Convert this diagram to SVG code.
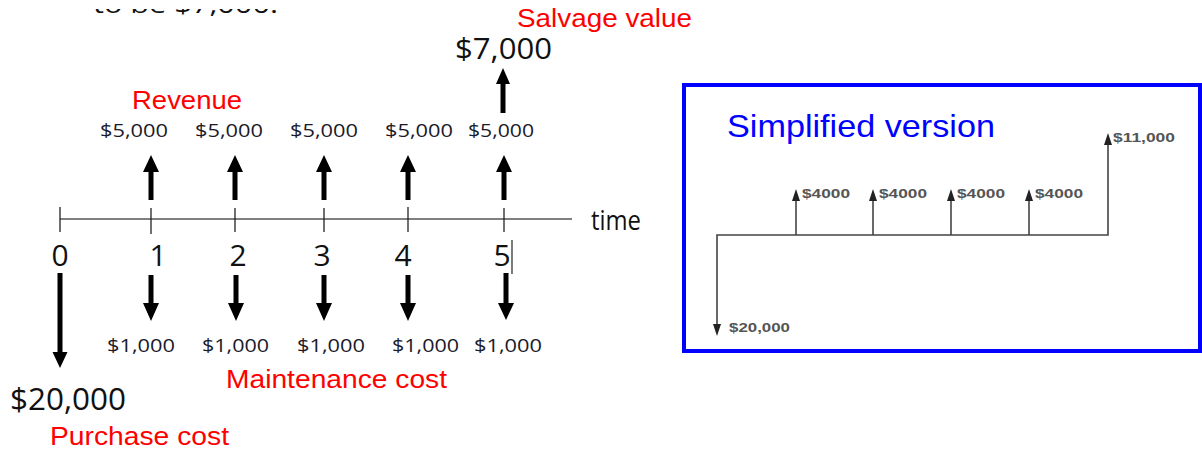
<svg xmlns="http://www.w3.org/2000/svg" width="1202" height="450" viewBox="0 0 1202 450">
<style>
.num{font-family:"Open Sans","Noto Sans",sans-serif;fill:#111;}
.lbl{font-family:"Open Sans","Noto Sans",sans-serif;fill:#1a1a2a;font-size:18px;}
.red{font-family:"Liberation Sans",Arial,sans-serif;fill:#ff0000;}
.arw{fill:#000;}
.axis{stroke:#555;stroke-width:1.5;fill:none;}
.tick{stroke:#222;stroke-width:1.3;}
.sm{stroke:#444;stroke-width:1.6;fill:none;}
.smh{fill:#222;}
.smt{font-family:"Liberation Sans",Arial,sans-serif;font-size:13px;font-weight:bold;fill:#555;}
</style>
<defs>
  <clipPath id="topcut"><rect x="0" y="9" width="400" height="20"/></clipPath>
</defs>
<rect width="1202" height="450" fill="#fff"/>
<g id="cut" clip-path="url(#topcut)">
  <text class="num" x="93" y="13" font-size="24" textLength="185" lengthAdjust="spacingAndGlyphs">to be $7,000.</text>
</g>

<g id="connectors">
  <line class="axis" x1="60" y1="219" x2="572" y2="219"/>
  <line class="tick" x1="60" y1="207" x2="60" y2="232"/>
  <line class="tick" x1="151" y1="208" x2="151" y2="234"/>
  <line class="tick" x1="235" y1="208" x2="235" y2="232"/>
  <line class="tick" x1="324" y1="208" x2="324" y2="232"/>
  <line class="tick" x1="408" y1="207" x2="408" y2="232"/>
  <line class="tick" x1="504" y1="208" x2="504" y2="232"/>
  <line stroke="#222" stroke-width="1.2" x1="512" y1="240" x2="512" y2="274"/>
  <!-- up arrows -->
  <polygon class="arw" points="148.5,200 148.5,172 143,172 151,155 159,172 153.5,172 153.5,200"/>
  <polygon class="arw" points="232.5,200 232.5,172 227,172 235,155 243,172 237.5,172 237.5,200"/>
  <polygon class="arw" points="321.5,200 321.5,172 316,172 324,155 332,172 326.5,172 326.5,200"/>
  <polygon class="arw" points="405.5,200 405.5,172 400,172 408,155 416,172 410.5,172 410.5,200"/>
  <polygon class="arw" points="501.5,200 501.5,172 496,172 504,155 512,172 506.5,172 506.5,200"/>
  <polygon class="arw" points="500.5,113 500.5,84 496,84 503,68 510,84 505.5,84 505.5,113"/>
  <!-- down arrows -->
  <polygon class="arw" points="57.5,273 57.5,352 52.5,352 60,368 67.5,352 62.5,352 62.5,273"/>
  <polygon class="arw" points="148.5,275 148.5,303 143,303 151,321 159,303 153.5,303 153.5,275"/>
  <polygon class="arw" points="233.5,275 233.5,303 228,303 236,321 244,303 238.5,303 238.5,275"/>
  <polygon class="arw" points="321.5,275 321.5,303 316,303 324,321 332,303 326.5,303 326.5,275"/>
  <polygon class="arw" points="405.5,275 405.5,303 400,303 408,321 416,303 410.5,303 410.5,275"/>
  <polygon class="arw" points="503.5,273 503.5,303 498,303 506,320 514,303 508.5,303 508.5,273"/>
</g>

<g id="axis-labels">
  <text class="num" x="60" y="266" font-size="30" text-anchor="middle">0</text>
  <text class="num" x="158" y="266" font-size="30" text-anchor="middle">1</text>
  <text class="num" x="238" y="266" font-size="30" text-anchor="middle">2</text>
  <text class="num" x="322" y="266" font-size="30" text-anchor="middle">3</text>
  <text class="num" x="403" y="266" font-size="30" text-anchor="middle">4</text>
  <text class="num" x="502" y="266" font-size="30" text-anchor="middle">5</text>
  <text class="num" x="591" y="230" font-size="28" textLength="50" lengthAdjust="spacingAndGlyphs">time</text>
</g>

<g id="revenue">
  <text class="red" x="132" y="109" font-size="25" textLength="110" lengthAdjust="spacingAndGlyphs">Revenue</text>
  <text class="lbl" x="100" y="137" textLength="68" lengthAdjust="spacingAndGlyphs">$5,000</text>
  <text class="lbl" x="195" y="137" textLength="68" lengthAdjust="spacingAndGlyphs">$5,000</text>
  <text class="lbl" x="290" y="137" textLength="68" lengthAdjust="spacingAndGlyphs">$5,000</text>
  <text class="lbl" x="385" y="137" textLength="68" lengthAdjust="spacingAndGlyphs">$5,000</text>
  <text class="lbl" x="468" y="137" textLength="66" lengthAdjust="spacingAndGlyphs">$5,000</text>
</g>

<g id="salvage">
  <text class="red" x="517" y="27" font-size="25" textLength="175" lengthAdjust="spacingAndGlyphs">Salvage value</text>
  <text class="num" x="455" y="59" font-size="30" textLength="97" lengthAdjust="spacingAndGlyphs">$7,000</text>
</g>

<g id="maintenance">
  <text class="lbl" x="107" y="352" textLength="68" lengthAdjust="spacingAndGlyphs">$1,000</text>
  <text class="lbl" x="202" y="352" textLength="67" lengthAdjust="spacingAndGlyphs">$1,000</text>
  <text class="lbl" x="297" y="352" textLength="68" lengthAdjust="spacingAndGlyphs">$1,000</text>
  <text class="lbl" x="392" y="352" textLength="67" lengthAdjust="spacingAndGlyphs">$1,000</text>
  <text class="lbl" x="474" y="352" textLength="68" lengthAdjust="spacingAndGlyphs">$1,000</text>
  <text class="red" x="226" y="388" font-size="25" textLength="221" lengthAdjust="spacingAndGlyphs">Maintenance cost</text>
</g>

<g id="purchase">
  <text class="num" x="10" y="410" font-size="31" textLength="116" lengthAdjust="spacingAndGlyphs">$20,000</text>
  <text class="red" x="50" y="445" font-size="25" textLength="179" lengthAdjust="spacingAndGlyphs">Purchase cost</text>
</g>

<g id="simplified">
  <rect x="684" y="85" width="516" height="266" fill="none" stroke="#0000ff" stroke-width="4"/>
  <text x="727" y="137" font-family="'Liberation Sans',Arial,sans-serif" font-size="32" fill="#0000ff" textLength="268" lengthAdjust="spacingAndGlyphs">Simplified version</text>
  <polyline class="sm" points="717,326 717,235 1108,235 1108,143"/>
  <line class="sm" x1="796" y1="235" x2="796" y2="197"/>
  <line class="sm" x1="873" y1="235" x2="873" y2="197"/>
  <line class="sm" x1="951" y1="235" x2="951" y2="197"/>
  <line class="sm" x1="1029" y1="235" x2="1029" y2="197"/>
  <polygon class="smh" points="792,201 796,189 800,201"/>
  <polygon class="smh" points="869,201 873,189 877,201"/>
  <polygon class="smh" points="947,201 951,189 955,201"/>
  <polygon class="smh" points="1025,201 1029,189 1033,201"/>
  <polygon class="smh" points="1104,145 1108,133 1112,145"/>
  <polygon class="smh" points="713,324 717,336 721,324"/>
  <text class="smt" x="802" y="198" textLength="48" lengthAdjust="spacingAndGlyphs">$4000</text>
  <text class="smt" x="879" y="198" textLength="48" lengthAdjust="spacingAndGlyphs">$4000</text>
  <text class="smt" x="957" y="198" textLength="48" lengthAdjust="spacingAndGlyphs">$4000</text>
  <text class="smt" x="1035" y="198" textLength="48" lengthAdjust="spacingAndGlyphs">$4000</text>
  <text class="smt" x="1113" y="142" textLength="62" lengthAdjust="spacingAndGlyphs">$11,000</text>
  <text class="smt" x="729" y="332" textLength="61" lengthAdjust="spacingAndGlyphs">$20,000</text>
</g>
</svg>
